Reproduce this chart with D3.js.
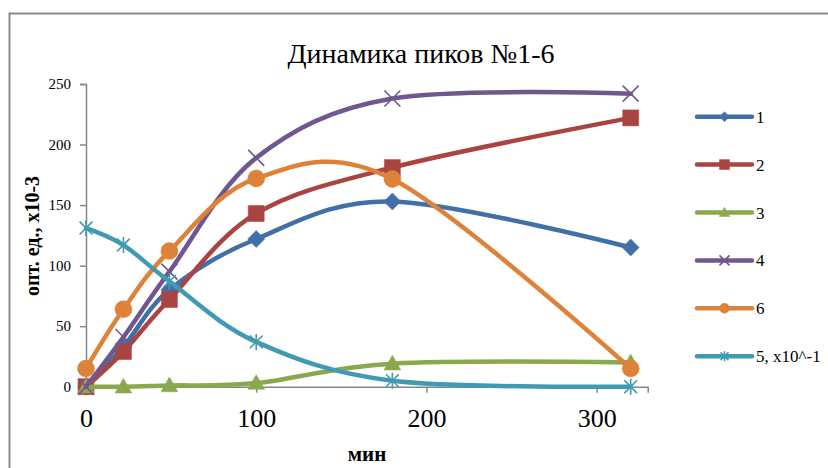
<!DOCTYPE html>
<html>
<head>
<meta charset="utf-8">
<script src="https://cdn.jsdelivr.net/npm/d3@7"></script>
<style>
  html, body { margin: 0; padding: 0; background: #fff; }
  svg { display: block; }
  text { font-family: "Liberation Serif", "Times New Roman", serif; fill: #000; }
</style>
</head>
<body>
<svg id="chart" width="828" height="468"></svg>
<script>
// Sampling times, minutes
const times = [0, 22, 49, 100, 180, 320];

// Peak intensities, opt. units x10^-3 (peak 5 scaled by 10^-1)
const peak1 = [0, 33, 80, 122, 153, 115];
const peak2 = [0, 29, 72, 143, 181, 222];
const peak3 = [0, 0, 1, 3, 19, 20];
const peak4 = [0, 41, 95, 189, 238, 242];
const peak6 = [15, 64, 112, 172, 171.5, 15];
const peak5 = [131, 117, 87, 37, 5, 0];

const seriesNames = ["1", "2", "3", "4", "6", "5, x10^-1"];
const seriesValues = [peak1, peak2, peak3, peak4, peak6, peak5];
const seriesColors = ["#4170A8", "#AA4441", "#8AA84E", "#71578F", "#DE823A", "#3F9AB2"];
const seriesMarkers = ["diamond", "square", "triangle", "cross", "circle", "asterisk"];

const xTicks = [0, 100, 200, 300];
const yTicks = [0, 50, 100, 150, 200, 250];

const titleText = "Динамика пиков №1-6";
const xTitle = "мин";
const yTitle = "опт. ед., х10-3";

const svg = d3.select("#chart");
const axisColor = "#868686";
const serif = "'Liberation Serif', 'Times New Roman', serif";

// Chart area border
svg.append("rect")
  .attr("x", 9.5).attr("y", 13.5)
  .attr("width", 840).attr("height", 480)
  .attr("fill", "none").attr("stroke", "#8a8a8a").attr("stroke-width", 2);

const x = d3.scaleLinear().domain([0, 330]).range([86, 647.7]);
const y = d3.scaleLinear().domain([0, 250]).range([386.7, 84]);

// Y axis
const yAxis = svg.append("g")
  .attr("transform", `translate(${x(0)},0)`)
  .call(d3.axisLeft(y).tickValues(yTicks).tickSize(6).tickPadding(9));
yAxis.select(".domain").attr("stroke", axisColor).attr("stroke-width", 1.5);
yAxis.selectAll(".tick line").attr("stroke", axisColor).attr("stroke-width", 1.5);
yAxis.selectAll(".tick text")
  .style("font-family", serif).style("font-size", "15px").attr("fill", "#000");

// X axis
const xAxis = svg.append("g")
  .attr("transform", `translate(0,${y(0)})`)
  .call(d3.axisBottom(x).tickValues(xTicks).tickSize(6).tickPadding(16));
xAxis.select(".domain").attr("stroke", axisColor).attr("stroke-width", 1.5);
xAxis.selectAll(".tick line").attr("stroke", axisColor).attr("stroke-width", 1.5);
xAxis.selectAll(".tick text")
  .style("font-family", serif).style("font-size", "26px").attr("fill", "#000");

// Titles
svg.append("text")
  .attr("x", 421).attr("y", 63)
  .attr("text-anchor", "middle")
  .style("font-family", serif)
  .style("font-size", "28px")
  .text(titleText);

svg.append("text")
  .attr("x", 367).attr("y", 461)
  .attr("text-anchor", "middle")
  .style("font-family", serif)
  .style("font-size", "21px").style("font-weight", "bold")
  .text(xTitle);

svg.append("text")
  .attr("transform", "translate(39,236) rotate(-90)")
  .attr("text-anchor", "middle")
  .style("font-family", serif)
  .style("font-size", "20px").style("font-weight", "bold")
  .text(yTitle);

// Marker shapes
function markerPath(kind, r) {
  switch (kind) {
    case "diamond": return `M0,${-r}L${r},0L0,${r}L${-r},0Z`;
    case "square": return `M${-r},${-r}H${r}V${r}H${-r}Z`;
    case "triangle": { const h = r * 1.05; return `M0,${-h}L${h},${h * 0.75}L${-h},${h * 0.75}Z`; }
    case "circle": return d3.symbol(d3.symbolCircle, Math.PI * r * r)();
    case "cross": return `M${-r},${-r}L${r},${r}M${r},${-r}L${-r},${r}`;
    case "asterisk": return `M0,${-r}V${r}M${-r * 0.8},${-r * 0.8}L${r * 0.8},${r * 0.8}M${r * 0.8},${-r * 0.8}L${-r * 0.8},${r * 0.8}`;
  }
}
function drawMarker(g, kind, color, r) {
  const stroked = kind === "cross" || kind === "asterisk";
  g.append("path")
    .attr("d", markerPath(kind, r))
    .attr("fill", stroked ? "none" : color)
    .attr("stroke", color)
    .attr("stroke-width", stroked ? 1.6 : 0.5);
}

const line = d3.line()
  .x(d => x(d[0]))
  .y(d => y(d[1]))
  .curve(d3.curveCardinal.tension(0));

const plot = svg.append("g");
seriesValues.forEach((vals, i) => {
  const pts = times.map((t, j) => [t, vals[j]]);
  const g = plot.append("g");
  g.append("path")
    .attr("d", line(pts))
    .attr("fill", "none")
    .attr("stroke", seriesColors[i])
    .attr("stroke-width", 4.5)
    .attr("stroke-linejoin", "round")
    .attr("stroke-linecap", "round");
  pts.forEach(p => {
    const mg = g.append("g").attr("transform", `translate(${x(p[0])},${y(p[1])})`);
    const r = { diamond: 8.5, square: 8, triangle: 8, circle: 8.5, cross: 8, asterisk: 8 }[seriesMarkers[i]];
    drawMarker(mg, seriesMarkers[i], seriesColors[i], r);
  });
});

// Legend
const legend = svg.append("g");
seriesNames.forEach((name, i) => {
  const ly = 116.7 + i * 47.9;
  const g = legend.append("g").attr("transform", `translate(0,${ly})`);
  g.append("line")
    .attr("x1", 697).attr("x2", 752)
    .attr("stroke", seriesColors[i]).attr("stroke-width", 4.5)
    .attr("stroke-linecap", "round");
  const mg = g.append("g").attr("transform", "translate(724.5,0)");
  drawMarker(mg, seriesMarkers[i], seriesColors[i], 5);
  g.append("text")
    .attr("x", 756).attr("y", 6)
    .style("font-family", serif)
    .style("font-size", "17px")
    .text(name);
});
</script>
</body>
</html>
